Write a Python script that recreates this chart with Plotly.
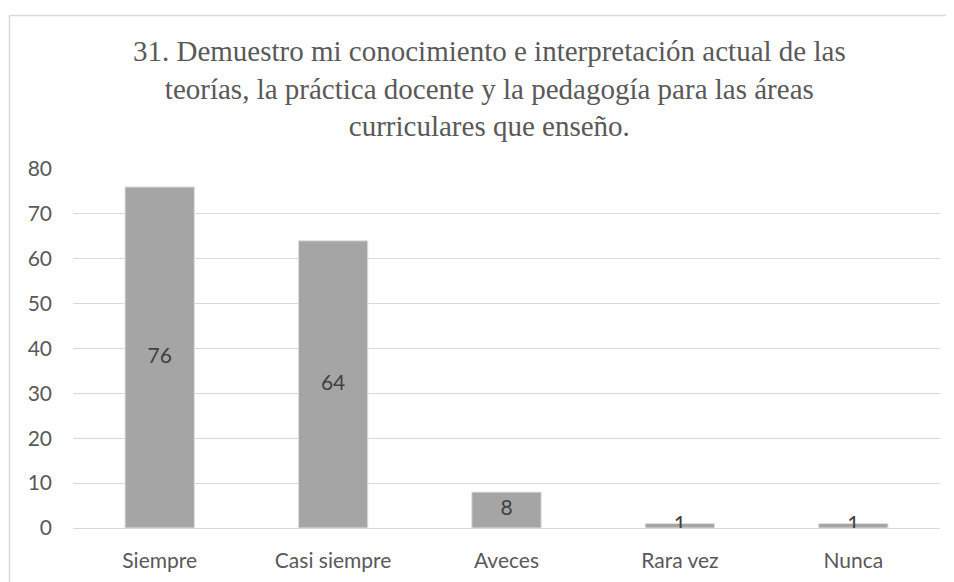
import plotly.graph_objects as go

categories = ["Siempre", "Casi siempre", "Aveces", "Rara vez", "Nunca"]
values = [76, 64, 8, 1, 1]
y_ticks = [0, 10, 20, 30, 40, 50, 60, 70, 80]
title_text = ("31. Demuestro mi conocimiento e interpretación actual de las<br>"
              "teorías, la práctica docente y la pedagogía para las áreas<br>"
              "curriculares que enseño.")

OFF = 8  # page body margin
W, H = 954 - OFF, 582 - OFF
# desired page-pixel plot box: left 73, right 940, top 169, bottom 528
L = 73 - OFF
T = 169 - OFF
R = 954 - 940
B = 582 - 528

FONT = "Lato, Open Sans, sans-serif"

fig = go.Figure()
fig.add_trace(go.Bar(
    x=categories, y=values,
    marker=dict(color="#A5A5A5", line=dict(color="#E0E0E0", width=1)),
    width=0.4, hoverinfo="skip",
))
fig.add_trace(go.Scatter(
    x=categories, y=[v / 2 for v in values],
    mode="text", text=[str(v) for v in values],
    textfont=dict(family=FONT, size=21, color="#404040"),
    textposition="middle center", hoverinfo="skip",
))

pw = W - L - R
ph = H - T - B
def px_x(px):  # page px -> paper x
    return (px - OFF - L) / pw
def px_y(py):  # page px -> paper y
    return (H - B - (py - OFF)) / ph

x0 = px_x(9.5)
y1 = px_y(15.5)
fig.add_shape(type="line", xref="paper", yref="paper", x0=x0, x1=x0, y0=-1, y1=y1,
              line=dict(color="#D9D9D9", width=1.5))
fig.add_shape(type="line", xref="paper", yref="paper", x0=x0, x1=2, y0=y1, y1=y1,
              line=dict(color="#D9D9D9", width=1.5))

fig.add_annotation(
    text=title_text, xref="paper", yref="paper",
    x=px_x(489), y=px_y(88), xanchor="center", yanchor="middle",
    showarrow=False, align="center",
    font=dict(family="Liberation Serif, Times New Roman, serif", size=29, color="#595959"),
)

fig.update_layout(
    width=W, height=H,
    margin=dict(l=L, r=R, t=T, b=B, autoexpand=False),
    paper_bgcolor="white", plot_bgcolor="white",
    showlegend=False,
    xaxis=dict(showgrid=False, showline=False, ticks="", automargin=False,
               ticklabelstandoff=18,
               tickfont=dict(family=FONT, size=21, color="#595959")),
    yaxis=dict(range=[0, 80], tickvals=y_ticks, showgrid=True, gridcolor="#D9D9D9", gridwidth=1,
               zeroline=True, zerolinecolor="#D9D9D9", zerolinewidth=1, showline=False, ticks="",
               ticklabelstandoff=20, automargin=False,
               tickfont=dict(family=FONT, size=21, color="#595959")),
)

fig.write_html("out.html")
